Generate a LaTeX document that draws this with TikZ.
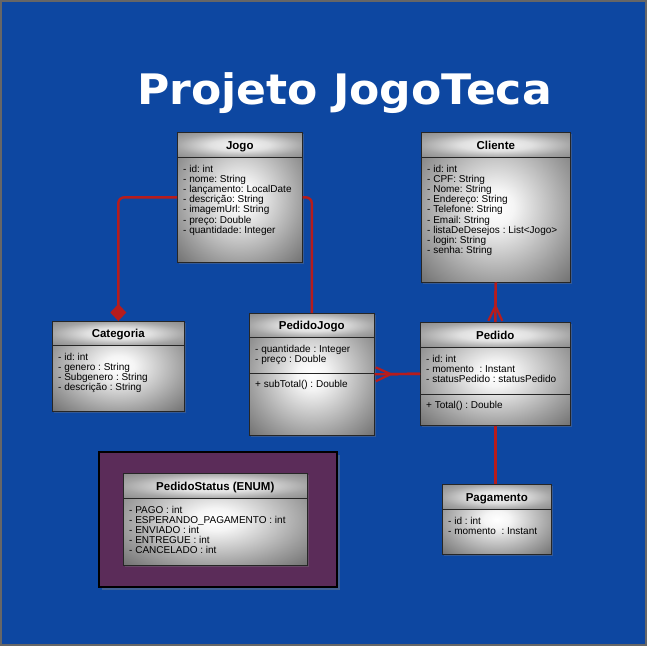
\documentclass[tikz,border=0pt]{standalone}
\usepackage{fontspec}
\setmainfont{Liberation Sans}
\newfontfamily\titlefont{DejaVu Sans}
\usetikzlibrary{arrows.meta}
\usetikzlibrary{shadows}
\frenchspacing
\definecolor{bgblue}{RGB}{13,71,161}
\definecolor{linkred}{RGB}{183,28,28}
\definecolor{enumpurple}{RGB}{91,44,89}
\pgfdeclareradialshading{bodyshade}{\pgfpoint{0bp}{0bp}}{color(0bp)=(white); color(6bp)=(white!96!black); color(25bp)=(black!38); color(35bp)=(black!55); color(50bp)=(black!55)}
\pgfdeclareradialshading{headshade}{\pgfpoint{0bp}{0bp}}{color(0bp)=(white!97!black); color(12bp)=(white!88!black); color(25bp)=(black!35); color(35bp)=(black!45); color(50bp)=(black!45)}
\tikzstyle{class}=[draw=black!85, semithick, inner sep=0pt, anchor=north west, shading=bodyshade, drop shadow={shadow xshift=2pt, shadow yshift=-2pt, opacity=0.35}]
\tikzstyle{class head}=[draw=black!85, semithick, inner sep=0pt, anchor=north west, shading=headshade, minimum height=25pt, text height=8.5pt, text depth=0pt, font=\bfseries\fontsize{11.5}{12}\selectfont]
\tikzstyle{compartment}=[draw=black!85, semithick, inner sep=0pt, anchor=south west]
\tikzstyle{members}=[anchor=north west, inner xsep=6pt, inner ysep=7pt, align=left, font=\fontsize{10}{10.2}\selectfont]
\tikzstyle{link}=[draw=linkred, line width=2.4pt]
\tikzstyle{many}=[-{Straight Barb[reversed, length=15pt, width=14pt, line width=2.2pt]}, postaction={draw, arrows=-}]

\begin{document}
\begin{tikzpicture}[x=1pt, y=-1pt]
  \useasboundingbox (0,0) rectangle (647,646);
  \fill[bgblue] (0,0) rectangle (647,646);
  \draw[black!60, line width=2pt] (1,1) rectangle (646,645);

  \node[white, font=\titlefont\bfseries\fontsize{42}{42}\selectfont, anchor=base, xscale=1.05] (titulo) at (344.5,104) {Projeto JogoTeca};

  % Jogo
  \node[class, minimum width=125pt, minimum height=130pt] (jogo) at (177,132) {};
  \node[class head, minimum width=125pt] (jogo head) at (jogo.north west) {Jogo};
  \node[members] at (jogo head.south west) {- id: int\\- nome: String\\- lançamento: LocalDate\\- descrição: String\\- imagemUrl: String\\- preço: Double\\- quantidade: Integer};

  % Cliente
  \node[class, minimum width=149pt, minimum height=150pt] (cliente) at (421,132) {};
  \node[class head, minimum width=149pt] (cliente head) at (cliente.north west) {Cliente};
  \node[members] at (cliente head.south west) {- id: int\\- CPF: String\\- Nome: String\\- Endereço: String\\- Telefone: String\\- Email: String\\- listaDeDesejos : List<Jogo>\\- login: String\\- senha: String};

  % Categoria
  \node[class, minimum width=132pt, minimum height=90pt] (categoria) at (52,321) {};
  \node[class head, minimum width=132pt, minimum height=24pt] (categoria head) at (categoria.north west) {Categoria};
  \node[members] at (categoria head.south west) {- id: int\\- genero : String\\- Subgenero : String\\- descrição : String};

  % PedidoJogo
  \node[class, minimum width=125pt, minimum height=122pt] (pedidojogo) at (249,313) {};
  \node[class head, minimum width=125pt, minimum height=24pt] (pedidojogo head) at (pedidojogo.north west) {PedidoJogo};
  \node[members] at (pedidojogo head.south west) {- quantidade : Integer\\- preço : Double};
  \node[compartment, minimum width=125pt, minimum height=62pt] (pedidojogo ops) at (pedidojogo.south west) {};
  \node[members] at (pedidojogo ops.north west) {+ subTotal() : Double};

  % Pedido
  \node[class, minimum width=150pt, minimum height=103pt] (pedido) at (420,322) {};
  \node[class head, minimum width=150pt] (pedido head) at (pedido.north west) {Pedido};
  \node[members] at (pedido head.south west) {- id: int\\- momento~ : Instant\\- statusPedido : statusPedido};
  \node[compartment, minimum width=150pt, minimum height=31pt] (pedido ops) at (pedido.south west) {};
  \node[members] at (pedido ops.north west) {+ Total() : Double};

  % Pagamento
  \node[class, minimum width=109pt, minimum height=70pt] (pagamento) at (442,484) {};
  \node[class head, minimum width=109pt] (pagamento head) at (pagamento.north west) {Pagamento};
  \node[members] at (pagamento head.south west) {- id : int\\- momento~ : Instant};

  % PedidoStatus
  \node[draw=black, line width=2pt, fill=enumpurple, anchor=north west, minimum width=238pt, minimum height=135pt, drop shadow={shadow xshift=3pt, shadow yshift=-3pt, opacity=0.45}] (enum frame) at (98,451) {};
  \node[class, minimum width=184pt, minimum height=92pt] (status) at (123,473) {};
  \node[class head, minimum width=184pt] (status head) at (status.north west) {PedidoStatus (ENUM)};
  \node[members] at (status head.south west) {- PAGO : int\\- ESPERANDO\_PAGAMENTO : int\\- ENVIADO : int\\- ENTREGUE : int\\- CANCELADO : int};

  % ligacoes
  \draw[link, rounded corners=6pt, -{Diamond[length=17pt, width=16pt]}] (jogo.west) -| (categoria.north);
  \draw[link, rounded corners=6pt] (jogo.east) -| (pedidojogo.north);
  \draw[link, many] (cliente.south) -- (pedido.north);
  \draw[link, many] (pedido.west) -- (pedidojogo.east);
  \draw[link] (pedido.south) -- (pedido.south |- pagamento.north);
\end{tikzpicture}
\end{document}
